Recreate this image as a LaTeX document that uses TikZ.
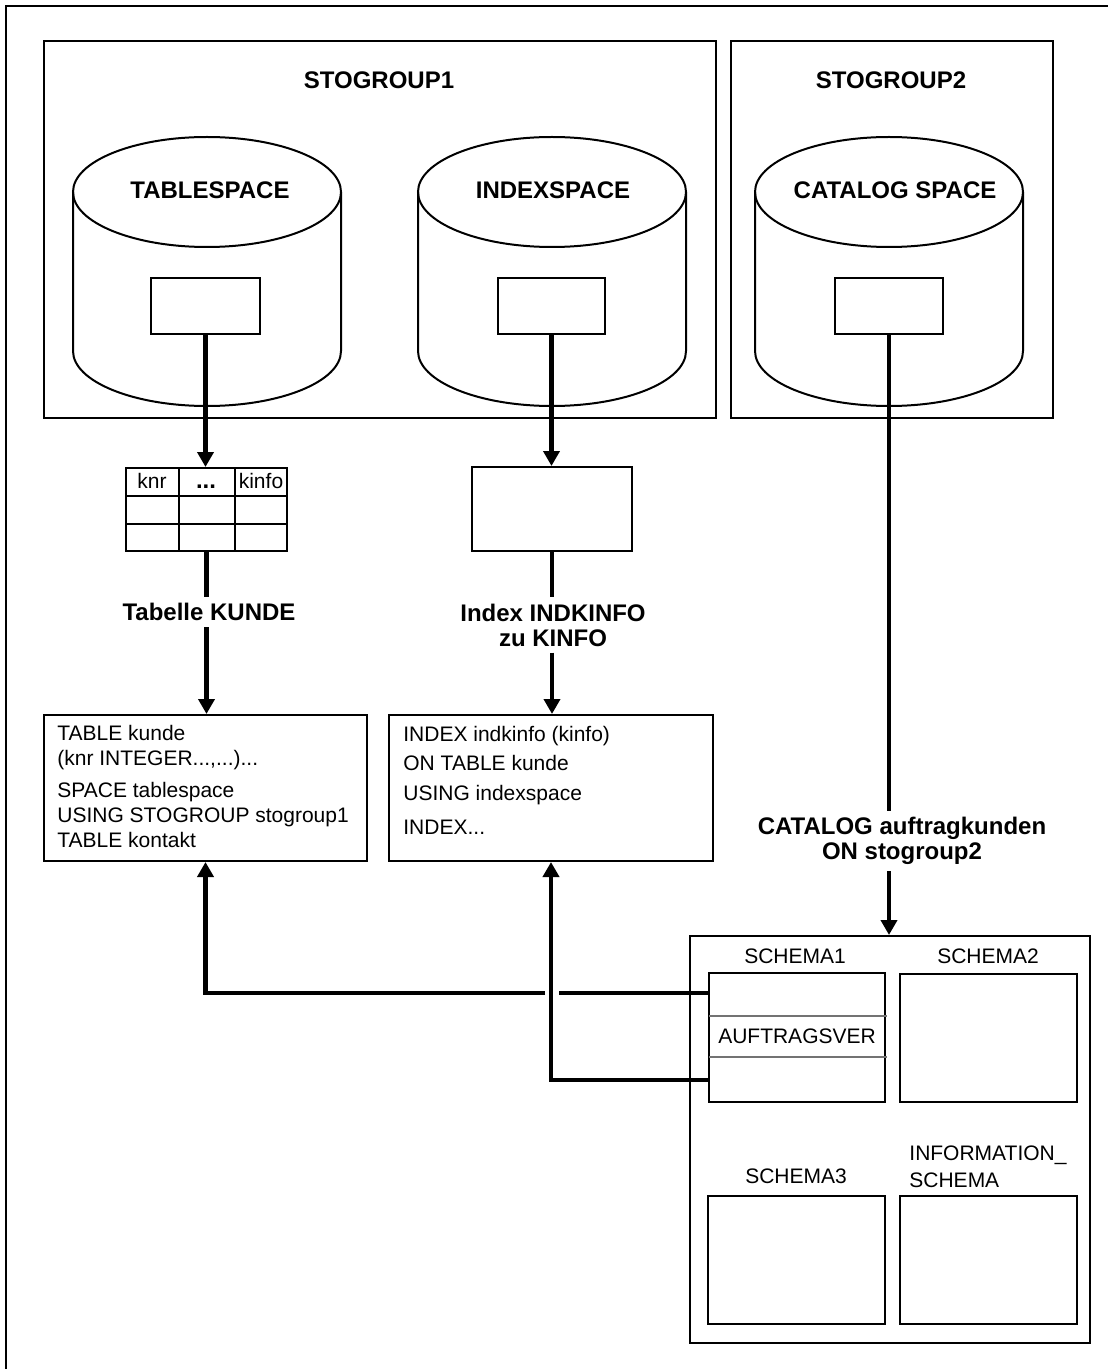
\documentclass[tikz,border=0pt]{standalone}
\usepackage{fontspec}
\setmainfont{Liberation Sans}
\usetikzlibrary{arrows.meta,fit}
\tikzset{
  frame/.style={draw, line width=1pt, inner sep=0pt},
  thin line/.style={draw=black!55, line width=0.6pt},
  heavy/.style={line width=2.3pt},
  conn/.style={heavy, -{Triangle[width=8pt,length=7.5pt]}},
  grouplabel/.style={font=\fontsize{12}{12.5}\selectfont\bfseries, inner sep=0pt, align=center},
  flowlabel/.style={grouplabel, inner sep=3pt},
  caption/.style={font=\fontsize{10.5}{12.5}\selectfont, inner sep=0pt, align=left},
  code/.style={caption, anchor=base west},
}
\def\drum(#1){%
  \draw[frame] (#1-134,192) -- (#1-134,351) arc[start angle=180, end angle=0, x radius=134, y radius=55] -- (#1+134,192);
  \draw[frame] (#1,192) ellipse [x radius=134, y radius=55];
}

\begin{document}
\begin{tikzpicture}[x=0.5pt,y=-0.5pt]
  \path[fill=white,use as bounding box] (0,0) rectangle (1108,1369);
  %%%%% frame %%%%%
  \draw[line width=1pt] (6,1369) -- (6,6) -- (1108,6);

  %%%%% storage groups %%%%%
  \node[frame, fit={(44,41) (716,418)}] (sg1) {};
  \node[frame, fit={(731,41) (1053,418)}] (sg2) {};
  \node[grouplabel] (sg1lbl) at (379,80) {STOGROUP1};
  \node[grouplabel] (sg2lbl) at (891,80) {STOGROUP2};

  \drum(207)
  \drum(552)
  \drum(889)
  \node[grouplabel] (tslbl) at (210,190) {TABLESPACE};
  \node[grouplabel] (islbl) at (553,190) {INDEXSPACE};
  \node[grouplabel] (cslbl) at (895,190) {CATALOG SPACE};

  \node[frame, fit={(151,278) (260,334)}] (tsrect) {};
  \node[frame, fit={(498,278) (605,334)}] (isrect) {};
  \node[frame, fit={(835,278) (943,334)}] (csrect) {};

  %%%%% table and index %%%%%
  \node[frame, fit={(126,468) (287,551)}] (kunde) {};
  \foreach \xx in {179,235} \draw[frame] (\xx,468) -- (\xx,551);
  \foreach \yy in {496,524} \draw[frame] (126,\yy) -- (287,\yy);
  \node[caption] (knr) at (152,481) {knr};
  \node[grouplabel, anchor=base] (dots) at (206,488) {...};
  \node[caption] (kinfo) at (261,481) {kinfo};

  \node[frame, fit={(472,467) (632,551)}] (indkinfo) {};

  \node[flowlabel] (tablbl) at (209,612) {Tabelle KUNDE};
  \node[flowlabel] (idxlbl) at (553,625) {Index INDKINFO\\zu KINFO};
  \node[flowlabel] (catlbl) at (902,841) {CATALOG auftragkunden\\ON stogroup2};

  %%%%% definitions %%%%%
  \node[frame, fit={(44,715) (367,861)}] (kundedef) {};
  \node[code] (kd1) at (57,740) {TABLE kunde};
  \node[code] (kd2) at (57,765) {(knr INTEGER...,...)...};
  \node[code] (kd3) at (57,797) {SPACE tablespace};
  \node[code] (kd4) at (57,822) {USING STOGROUP stogroup1};
  \node[code] (kd5) at (57,847) {TABLE kontakt};

  \node[frame, fit={(389,715) (713,861)}] (indexdef) {};
  \node[code] (id1) at (403,741) {INDEX indkinfo (kinfo)};
  \node[code] (id2) at (403,770) {ON TABLE kunde};
  \node[code] (id3) at (403,800) {USING indexspace};
  \node[code] (id4) at (403,834) {INDEX...};

  %%%%% catalog %%%%%
  \node[frame, fit={(690,936) (1090,1343)}] (catalog) {};
  \node[caption] (s1lbl) at (795,956) {SCHEMA1};
  \node[caption] (s2lbl) at (988,956) {SCHEMA2};
  \node[caption] (s3lbl) at (796,1176) {SCHEMA3};
  \node[caption, anchor=north west] (islbl2) at (909,1145) {INFORMATION\_\\[1pt]SCHEMA};
  \node[frame, fit={(709,973) (885,1102)}] (schema1) {};
  \node[frame, fit={(900,974) (1077,1102)}] (schema2) {};
  \node[frame, fit={(708,1196) (885,1324)}] (schema3) {};
  \node[frame, fit={(900,1196) (1077,1324)}] (infschema) {};
  \draw[thin line] (709,1016) -- (887,1016);
  \draw[thin line] (709,1057) -- (887,1057);
  \node[caption] (auftrag) at (797,1036) {AUFTRAGSVER};

  %%%%% connectors %%%%%
  \draw[conn] (tsrect.south) -- (tsrect.south |- kunde.north);
  \draw[heavy] (kunde.south) -- (kunde.south |- tablbl.north);
  \draw[conn] (kunde.south |- tablbl.south) -- (kunde.south |- kundedef.north);

  \draw[conn] (isrect.south) -- (isrect.south |- indkinfo.north);
  \draw[heavy] (indkinfo.south) -- (indkinfo.south |- idxlbl.north);
  \draw[conn] (indkinfo.south |- idxlbl.south) -- (indkinfo.south |- indexdef.north);

  \draw[heavy] (csrect.south) -- (csrect.south |- catlbl.north);
  \draw[conn] (csrect.south |- catlbl.south) -- (csrect.south |- catalog.north);

  \coordinate (s1top) at (709,993);
  \coordinate (s1low) at (709,1080);
  \coordinate (jumpR) at (559,993);
  \coordinate (jumpL) at (545,993);
  \draw[heavy] (s1top) -- (jumpR);
  \draw[conn] (jumpL) -| (kundedef.south);
  \draw[conn] (s1low) -| (indexdef.south);
\end{tikzpicture}
\end{document}
